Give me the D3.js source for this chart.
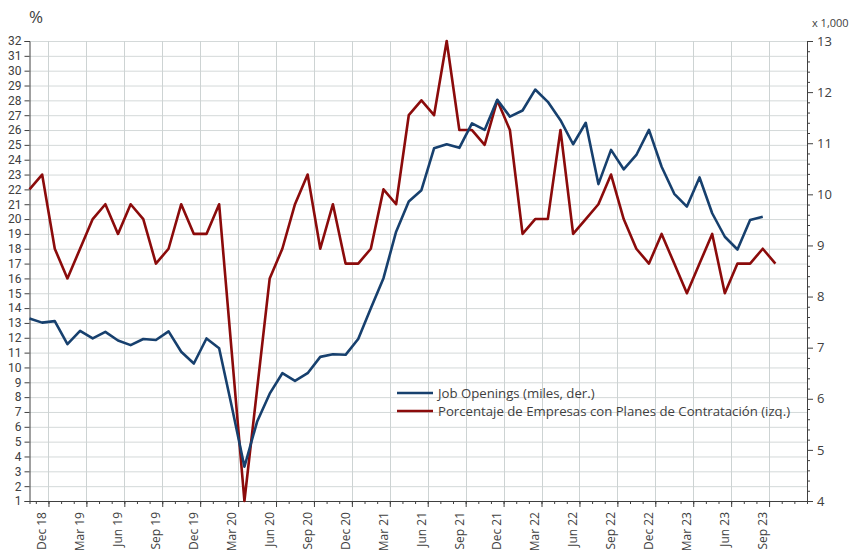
<!DOCTYPE html>
<html>
<head>
<meta charset="utf-8">
<script src="https://cdn.jsdelivr.net/npm/d3@7"></script>
<style>
  body { margin: 0; background: #fff; }
  svg text { font-family: "Open Sans", "Noto Sans", sans-serif; fill: #404040; }
</style>
</head>
<body>
<div id="chart"></div>
<script>
// months from Nov 18 (index 0) to Oct 23 (index 59)
const quarterLabels = ["Dec 18","Mar 19","Jun 19","Sep 19","Dec 19","Mar 20","Jun 20","Sep 20",
  "Dec 20","Mar 21","Jun 21","Sep 21","Dec 21","Mar 22","Jun 22","Sep 22","Dec 22","Mar 23","Jun 23","Sep 23"];
const quarterIndex = [1,4,7,10,13,16,19,22,25,28,31,34,37,40,43,46,49,52,55,58];

// % empresas con planes de contratacion (izq.)
const hiringPlans = [22,23,18,16,18,20,21,19,21,20,17,18,21,19,19,21,11,1,8.5,16,
  18,21,23,18,21,17,17,18,22,21,27,28,27,32,26,26,25,28,26,19,
  20,20,26,19,20,21,23,20,18,17,19,17,15,17,19,15,17,17,18,17];

// job openings, miles (der.)
const jobOpenings = [7.57,7.49,7.52,7.07,7.33,7.18,7.31,7.14,7.05,7.17,7.15,7.32,6.92,6.69,7.18,6.99,5.85,4.67,5.55,6.1,
  6.5,6.35,6.5,6.82,6.87,6.86,7.17,7.77,8.36,9.27,9.86,10.08,10.9,10.98,10.91,11.39,11.26,11.85,11.52,11.64,
  12.05,11.81,11.45,10.98,11.4,10.2,10.87,10.49,10.77,11.26,10.54,10.01,9.76,10.33,9.63,9.17,8.92,9.5,9.56];

const leftTicks = d3.range(1, 33);
const rightTicks = [4,5,6,7,8,9,10,11,12,13];

const W = 857, H = 559;
const mLeft = 29.5, mRight = 807, mTop = 41, mBottom = 501;

const svg = d3.select('#chart').append('svg').attr('width', W).attr('height', H);

const x = d3.scaleLinear().domain([0, 61.5]).range([mLeft, mRight]);
const yL = d3.scaleLinear().domain([1, 32]).range([mBottom, mTop]);
const yR = d3.scaleLinear().domain([4, 13]).range([mBottom, mTop]);

// horizontal grid
svg.append('g').selectAll('line').data(leftTicks).enter().append('line')
  .attr('x1', mLeft).attr('x2', mRight)
  .attr('y1', d => yL(d) + 0.5).attr('y2', d => yL(d) + 0.5)
  .attr('stroke', '#d4d9d9').attr('stroke-width', 1);

// vertical grid at quarter boundaries
svg.append('g').selectAll('line').data(quarterIndex).enter().append('line')
  .attr('x1', d => Math.round(x(d + 0.5)) + 0.5).attr('x2', d => Math.round(x(d + 0.5)) + 0.5)
  .attr('y1', mTop).attr('y2', mBottom)
  .attr('stroke', '#cdd3d3').attr('stroke-width', 1);

// axes
const axisColor = '#404040';
svg.append('g').attr('transform', `translate(${mLeft},0)`)
  .call(d3.axisLeft(yL).tickValues(leftTicks).tickSize(5).tickFormat(d3.format('d')))
  .call(g => {
    g.select('.domain').attr('stroke', axisColor);
    g.selectAll('.tick line').attr('stroke', axisColor);
    g.selectAll('text').attr('font-size', 12).attr('x', -8).attr('fill', '#404040')
      .style('font-family', 'Roboto, sans-serif');
  });

const minorR = d3.range(4, 13.01, 0.2).map(v => Math.round(v * 10) / 10).filter(v => !rightTicks.includes(v));
svg.append('g').attr('transform', `translate(${mRight},0)`)
  .call(d3.axisRight(yR).tickValues(minorR).tickSize(3).tickFormat(''))
  .call(g => { g.select('.domain').attr('stroke', axisColor); g.selectAll('.tick line').attr('stroke', axisColor); });
svg.append('g').attr('transform', `translate(${mRight},0)`)
  .call(d3.axisRight(yR).tickValues(rightTicks).tickSize(6).tickFormat(d3.format('d')))
  .call(g => {
    g.select('.domain').attr('stroke', axisColor);
    g.selectAll('.tick line').attr('stroke', axisColor);
    g.selectAll('text').attr('font-size', 13).attr('x', 10).attr('fill', '#404040');
  });

const monthTicks = d3.range(0, 61).map(i => i + 0.5);
svg.append('g').attr('transform', `translate(0,${mBottom})`)
  .call(d3.axisBottom(x).tickValues(monthTicks).tickSize(3).tickFormat(''))
  .call(g => { g.select('.domain').attr('stroke', axisColor); g.selectAll('.tick line').attr('stroke', axisColor); });
svg.append('g').attr('transform', `translate(0,${mBottom})`)
  .call(d3.axisBottom(x).tickValues(quarterIndex.map(i => i + 0.5)).tickSize(6).tickFormat(''))
  .call(g => { g.select('.domain').remove(); g.selectAll('.tick line').attr('stroke', axisColor); });

svg.append('g').selectAll('text').data(quarterIndex).enter().append('text')
  .attr('transform', d => `translate(${x(d)},${mBottom + 11}) rotate(-90)`)
  .attr('text-anchor', 'end').attr('dy', '0.35em')
  .attr('font-size', 12)
  .text((d, i) => quarterLabels[i]);

// lines
const lineL = d3.line().x((d, i) => x(i)).y(d => yL(d));
const lineR = d3.line().x((d, i) => x(i)).y(d => yR(d));
svg.append('path').datum(hiringPlans).attr('d', lineL)
  .attr('fill', 'none').attr('stroke', '#8b0b0b').attr('stroke-width', 2.6).attr('stroke-linejoin', 'round');
svg.append('path').datum(jobOpenings).attr('d', lineR)
  .attr('fill', 'none').attr('stroke', '#17406e').attr('stroke-width', 2.6).attr('stroke-linejoin', 'round');

// titles
svg.append('text').attr('x', 29).attr('y', 23).attr('font-size', 17).text('%');
svg.append('text').attr('x', 812).attr('y', 27).attr('font-size', 11).text('x 1,000');

// legend
const legend = [
  {name: 'Job Openings (miles, der.)', color: '#17406e'},
  {name: 'Porcentaje de Empresas con Planes de Contratación (izq.)', color: '#8b0b0b'}
];
const lg = svg.append('g').selectAll('g').data(legend).enter().append('g')
  .attr('transform', (d, i) => `translate(397,${393 + i * 18})`);
lg.append('line').attr('x1', 0).attr('x2', 36).attr('stroke', d => d.color).attr('stroke-width', 2.6);
lg.append('text').attr('x', 41).attr('dy', '0.35em').attr('font-size', 13.2).text(d => d.name);
</script>
</body>
</html>
